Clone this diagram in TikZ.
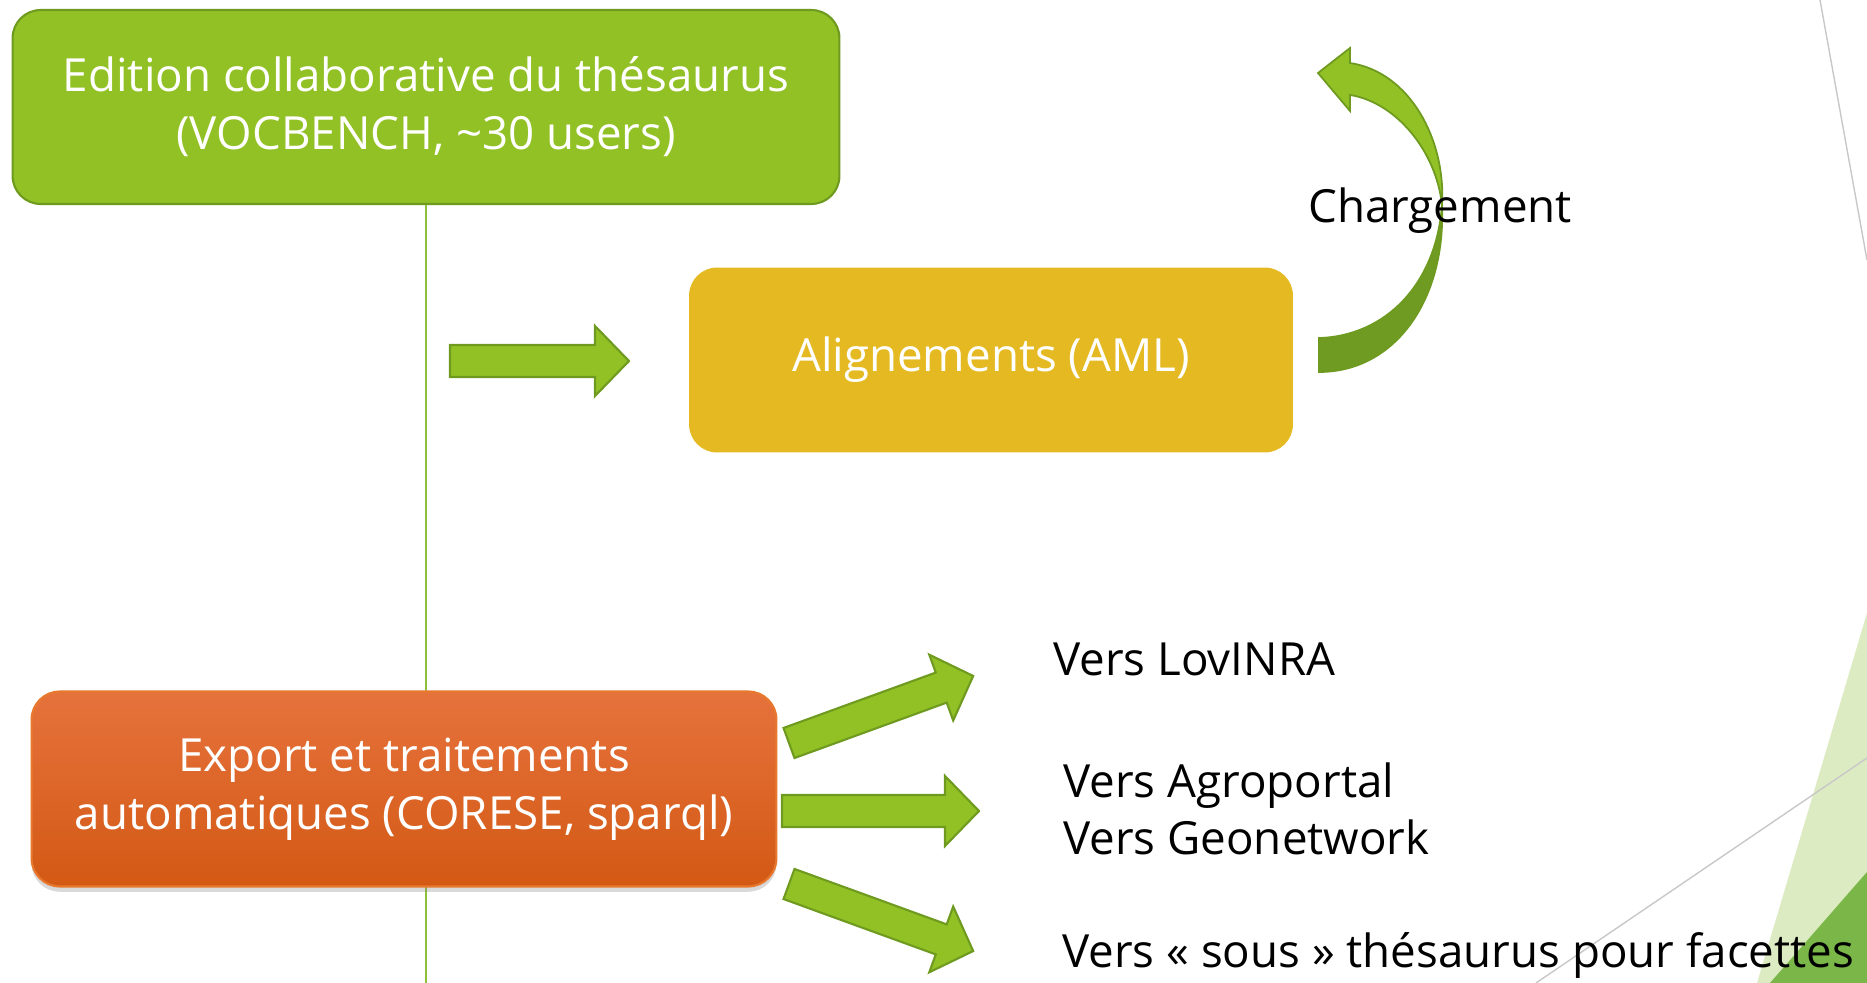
\documentclass[tikz,border=0pt]{standalone}
\usepackage{fontspec}
\setmainfont{Open Sans}
\usetikzlibrary{shadows}

\definecolor{leafgreen}{HTML}{92C125}
\definecolor{leafedge}{HTML}{6E9A20}
\definecolor{darkleaf}{HTML}{6F9B22}
\definecolor{mustard}{HTML}{E5B921}
\definecolor{rusttop}{HTML}{E6723C}
\definecolor{rustbot}{HTML}{D35914}
\definecolor{rustedge}{HTML}{E8782E}
\definecolor{spinegreen}{HTML}{8DC03B}
\definecolor{palegreen}{HTML}{DDEBC3}
\definecolor{cornergreen}{HTML}{7AB648}
\definecolor{hairgrey}{HTML}{C8C8C8}

\newcommand\boxfont{\fontsize{26}{33}\selectfont}

\tikzset{
  box/.style={rounded corners=16pt, text=white, align=center, font=\boxfont, inner sep=0pt, line width=1.2pt},
  fatarrow/.style={fill=leafgreen, draw=leafedge, line width=1.2pt, line join=miter},
  target/.style={anchor=base west, font=\boxfont, inner sep=0pt},
  spine/.style={draw=spinegreen, line width=1.2pt},
  pics/blockarrow/.style={code={
    \draw[fatarrow] (0,-16) -- (#1-34,-16) -- (#1-34,-35) -- (#1,0) -- (#1-34,35) -- (#1-34,16) -- (0,16) -- cycle;
  }}
}

\begin{document}
\begin{tikzpicture}[x=0.02cm,y=-0.02cm]
\useasboundingbox (0,0) rectangle (1867,983);

% slide decoration
\draw[hairgrey, line width=0.8pt] (1820,0) -- (1867,260);
\fill[palegreen] (1867,613) -- (1757,983) -- (1867,983) -- cycle;
\draw[hairgrey, line width=0.8pt] (1536,983) -- (1867,758);
\fill[cornergreen] (1867,872) -- (1770,983) -- (1867,983) -- cycle;

% boxes
\node[box, fill=leafgreen, draw=leafedge, minimum width=16.54cm, minimum height=3.88cm] (edit) at (426,107)
  {Edition collaborative du thésaurus\\(VOCBENCH, \textasciitilde30 users)};
\node[box, draw=none, fill=mustard, minimum width=12.08cm, minimum height=3.7cm] (align) at (991,360)
  {Alignements (AML)};
\coordinate (bottom) at (426,983);
\draw[spine] (edit.south) -- (426,691);
\draw[spine] (426,886) -- (bottom);
\node[box, draw=rustedge, top color=rusttop, bottom color=rustbot, minimum width=14.9cm, minimum height=3.9cm,
  drop shadow={opacity=0.3, shadow xshift=0pt, shadow yshift=-3pt}] (export) at (404,789)
  {Export et traitements\\automatiques (CORESE, sparql)};

% block arrows
\pic at (450,361) {blockarrow=179};
\pic[rotate=20] at (789,743) {blockarrow=196};
\pic at (782,811) {blockarrow=197};
\pic[rotate=-20] at (789,884) {blockarrow=196};

% Chargement loop
\draw[fill=darkleaf, draw=leafedge, line width=1pt] (1319,338) .. controls (1385,336) and (1436,285) .. (1442,205)
  .. controls (1446,300) and (1395,372) .. (1319,372) -- cycle;
\draw[fill=leafgreen, draw=leafedge, line width=1pt] (1442,205) .. controls (1436,150) and (1395,102) .. (1350,95)
  -- (1350,111) -- (1318,73) -- (1350,48) -- (1350,63)
  .. controls (1410,72) and (1446,140) .. (1442,205) -- cycle;
\node[target] (load) at (1308,223) {Chargement};

% targets
\node[target] (lov) at (1053,675) {Vers LovINRA};
\node[target] (agro) at (1063,797) {Vers Agroportal};
\node[target] (geo) at (1063,854) {Vers Geonetwork};
\node[target] (facet) at (1062,967) {Vers « sous » thésaurus pour facettes};
\end{tikzpicture}
\end{document}
